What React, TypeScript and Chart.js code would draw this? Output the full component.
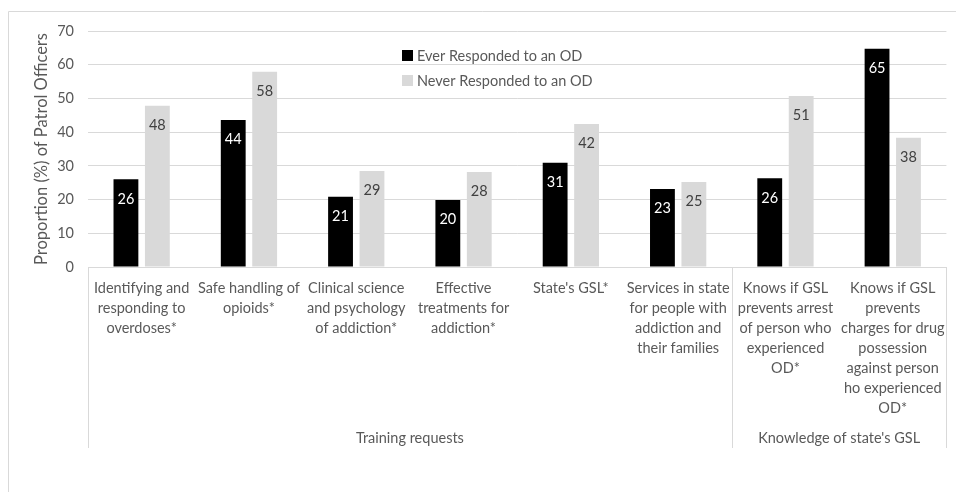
import React, { useEffect, useRef } from "react";
import { Chart, registerables } from "chart.js";

Chart.register(...registerables);

const categories: string[][] = [
  ["Identifying and", "responding to", "overdoses*"],
  ["Safe handling of", "opioids*"],
  ["Clinical science", "and psychology", "of addiction*"],
  ["Effective", "treatments for", "addiction*"],
  ["State's GSL*"],
  ["Services in state", "for people with", "addiction and", "their families"],
  ["Knows if GSL", "prevents arrest", "of person who", "experienced", "OD*"],
  ["Knows if GSL", "prevents", "charges for drug", "possession", "against person", "ho experienced", "OD*"],
];
const everResponded = [26, 43.6, 20.8, 19.9, 30.9, 23.1, 26.3, 64.7];
const neverResponded = [47.8, 57.9, 28.5, 28.2, 42.4, 25.2, 50.7, 38.3];
const seriesNames = ["Ever Responded to an OD", "Never Responded to an OD"];
const groupNames = ["Training requests", "Knowledge of state's GSL"];
const groupSpans = [6, 2];
const yTicks = [0, 10, 20, 30, 40, 50, 60, 70];

const FONT = "Lato, 'Open Sans', sans-serif";
const TEXT = "#595959";
const GRID = "#d9d9d9";

const extrasPlugin = {
  id: "extras",
  afterDatasetsDraw(chart: any) {
    const { ctx, chartArea } = chart;
    const xs = chart.scales.x;
    ctx.save();
    // data labels
    ctx.font = `14.5px ${FONT}`;
    ctx.textAlign = "center";
    ctx.textBaseline = "middle";
    chart.data.datasets.forEach((ds: any, di: number) => {
      const meta = chart.getDatasetMeta(di);
      meta.data.forEach((bar: any, i: number) => {
        ctx.fillStyle = di === 0 ? "#ffffff" : "#404040";
        ctx.fillText(String(Math.round(ds.data[i])), bar.x, bar.y + 19.5);
      });
    });
    // legend
    ctx.textAlign = "left";
    chart.data.datasets.forEach((ds: any, di: number) => {
      const cy = 55.5 + di * 25;
      ctx.fillStyle = ds.backgroundColor;
      ctx.fillRect(402, cy - 5.5, 11, 11);
      ctx.fillStyle = TEXT;
      ctx.fillText(ds.label, 417, cy + 0.5);
    });
    // frame
    ctx.strokeStyle = GRID;
    ctx.lineWidth = 1;
    ctx.beginPath();
    ctx.moveTo(8.5, 492);
    ctx.lineTo(8.5, 11.5);
    ctx.lineTo(956, 11.5);
    ctx.stroke();
    // group separators and labels
    const n = chart.data.labels.length;
    const half = n > 1 ? (xs.getPixelForValue(1) - xs.getPixelForValue(0)) / 2 : chartArea.width / 2;
    const bottom = 448;
    let start = 0;
    const bounds: number[] = [xs.getPixelForValue(0) - half];
    groupSpans.forEach((span, gi) => {
      const end = start + span - 1;
      const x1 = xs.getPixelForValue(end) + half;
      bounds.push(x1);
      const x0 = xs.getPixelForValue(start) - half;
      ctx.fillStyle = TEXT;
      ctx.textAlign = "center";
      ctx.font = `14.5px ${FONT}`;
      ctx.fillText(groupNames[gi], (x0 + x1) / 2, 438);
      start += span;
    });
    ctx.beginPath();
    bounds.forEach((bx) => {
      const px = Math.round(bx) + 0.5;
      ctx.moveTo(px, chartArea.bottom);
      ctx.lineTo(px, bottom);
    });
    ctx.moveTo(chartArea.left, chartArea.bottom + 0.5);
    ctx.lineTo(chartArea.right, chartArea.bottom + 0.5);
    ctx.stroke();
    ctx.restore();
  },
};

export default function App() {
  const ref = useRef<HTMLCanvasElement | null>(null);
  useEffect(() => {
    if (!ref.current) return;
    const chart = new Chart(ref.current, {
      type: "bar",
      data: {
        labels: categories,
        datasets: [
          { label: seriesNames[0], data: everResponded, backgroundColor: "#000000", categoryPercentage: 0.586, barPercentage: 0.79 },
          { label: seriesNames[1], data: neverResponded, backgroundColor: "#d9d9d9", categoryPercentage: 0.586, barPercentage: 0.79 },
        ],
      },
      options: {
        animation: false,
        responsive: false,
        layout: { padding: { top: 31, right: 8, bottom: 0, left: 0 } },
        plugins: { legend: { display: false }, tooltip: { enabled: false } },
        scales: {
          x: {
            grid: { display: false, drawTicks: false },
            border: { display: false },
            ticks: {
              color: TEXT,
              font: { family: FONT, size: 14.5, lineHeight: 20 / 14.5 },
              padding: 11,
              maxRotation: 0,
              autoSkip: false,
            },
            afterFit: (s: any) => {
              s.height = 225;
            },
          },
          y: {
            min: 0,
            max: 70,
            afterBuildTicks: (s: any) => {
              s.ticks = yTicks.map((v) => ({ value: v }));
            },
            grid: { color: GRID, drawTicks: false },
            border: { display: false },
            ticks: {
              color: TEXT,
              font: { family: FONT, size: 14.5 },
              padding: 14,
            },
            title: {
              display: true,
              text: "Proportion (%) of Patrol Officers",
              color: TEXT,
              font: { family: FONT, size: 16.5 },
              padding: { top: 32, bottom: 0 },
            },
            afterFit: (s: any) => {
              s.width = 88;
            },
          },
        },
      },
      plugins: [extrasPlugin],
    });
    return () => chart.destroy();
  }, []);
  return (
    <div style={{ position: "fixed", left: 0, top: 0, width: 956, height: 492, background: "#fff" }}>
      <canvas ref={ref} width={956} height={492} style={{ display: "block", width: 956, height: 492 }} />
    </div>
  );
}
